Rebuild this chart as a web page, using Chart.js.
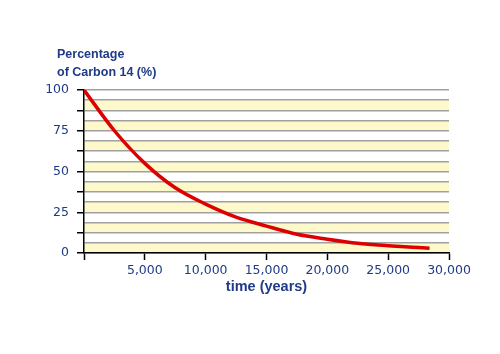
<!DOCTYPE html>
<html>
<head>
<meta charset="utf-8">
<script src="https://cdn.jsdelivr.net/npm/chart.js@4/dist/chart.umd.min.js"></script>
<style>
  html, body { margin: 0; padding: 0; background: #ffffff; }
  #wrap { width: 500px; height: 354px; }
</style>
</head>
<body>
<div id="wrap"><canvas id="c" width="500" height="354"></canvas></div>
<script>
// Data
const years   = [0, 2500, 5000, 7500, 10000, 12500, 15000, 17500, 20000, 22500, 25000, 27500, 28400];
const percent = [100, 75, 55, 40, 30, 22, 16.5, 11.5, 8.5, 6, 4.5, 3.3, 2.9];
const yTitleLines = ['Percentage', 'of Carbon 14 (%)'];
const xTitle = 'time (years)';
const yLabelValues = [0, 25, 50, 75, 100];

const navy = '#1f3b88';

const points = years.map((x, i) => ({ x: x, y: percent[i] }));

const bandsPlugin = {
  id: 'bands',
  beforeDraw(chart) {
    const { ctx, chartArea } = chart;
    const y = chart.scales.y;
    ctx.save();
    ctx.fillStyle = '#fdf9cb';
    y.ticks.forEach(t => {
      const v = t.value;
      if (v < 100 && Math.abs(v % 12.5) < 1e-9) {
        const top = y.getPixelForValue(v + 6.25);
        const bot = y.getPixelForValue(v);
        ctx.fillRect(chartArea.left, top, chartArea.right - chartArea.left, bot - top);
      }
    });
    ctx.restore();
  }
};

const yTitlePlugin = {
  id: 'yTitle',
  afterDraw(chart) {
    const ctx = chart.ctx;
    ctx.save();
    ctx.fillStyle = navy;
    ctx.font = 'bold 12.5px "Liberation Sans", Arial, sans-serif';
    ctx.textAlign = 'left';
    ctx.textBaseline = 'middle';
    ctx.fillText(yTitleLines[0], 57, 55);
    ctx.fillText(yTitleLines[1], 57, 73);
    ctx.restore();
  }
};

new Chart(document.getElementById('c'), {
  type: 'line',
  data: {
    datasets: [{
      data: points,
      borderColor: '#dd0000',
      borderWidth: 3.5,
      pointRadius: 0,
      tension: 0.4,
      cubicInterpolationMode: 'monotone',
      fill: false
    }]
  },
  options: {
    responsive: false,
    animation: false,
    devicePixelRatio: 1,
    layout: { padding: { left: 0, right: 51, top: 90, bottom: 54 } },
    plugins: {
      legend: { display: false },
      tooltip: { enabled: false }
    },
    scales: {
      x: {
        type: 'linear',
        min: 0,
        max: 30000,
        afterFit(s) { s.height = 47; },
        border: { display: true, color: '#000', width: 1.5 },
        grid: { drawOnChartArea: false, drawTicks: true, tickLength: 7, tickColor: '#000', tickWidth: 1.5 },
        ticks: {
          stepSize: 5000,
          autoSkip: false,
          maxRotation: 0,
          color: navy,
          padding: 3,
          font: { family: '"DejaVu Sans", Verdana, sans-serif', size: 12.5 },
          callback: v => v === 0 ? '' : v.toLocaleString('en-US')
        },
        title: {
          display: true,
          text: xTitle,
          color: navy,
          font: { family: '"Liberation Sans", Arial, sans-serif', size: 14.5, weight: 'bold' },
          padding: { top: 4, bottom: 4 }
        }
      },
      y: {
        min: 0,
        max: 100,
        afterFit(s) { s.width = 84; },
        border: { display: true, color: '#000', width: 1.5 },
        grid: {
          color: '#a0a0a0',
          lineWidth: 1.5,
          drawTicks: true,
          tickLength: 7,
          tickWidth: 1.5,
          tickColor: ctx => (Math.abs(ctx.tick.value % 12.5) < 1e-9 ? '#000' : 'rgba(0,0,0,0)')
        },
        ticks: {
          stepSize: 6.25,
          autoSkip: false,
          color: navy,
          padding: 8,
          font: { family: '"DejaVu Sans", Verdana, sans-serif', size: 12.5 },
          callback: v => (yLabelValues.includes(v) ? String(v) : '')
        }
      }
    }
  },
  plugins: [bandsPlugin, yTitlePlugin]
});
</script>
</body>
</html>
